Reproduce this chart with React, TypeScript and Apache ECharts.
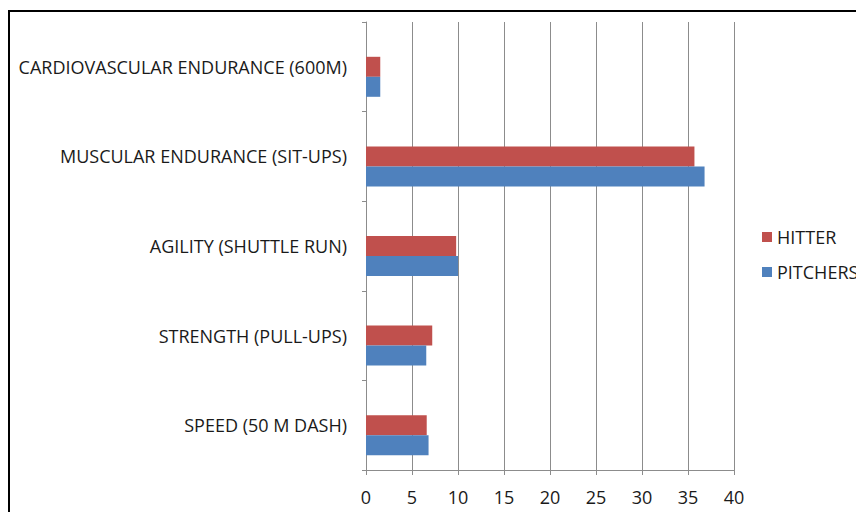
import React, { useEffect, useRef } from "react";
import * as echarts from "echarts";

const categories = [
  "SPEED (50 M DASH)",
  "STRENGTH (PULL-UPS)",
  "AGILITY (SHUTTLE RUN)",
  "MUSCULAR ENDURANCE (SIT-UPS)",
  "CARDIOVASCULAR ENDURANCE (600M)",
];
const hitter = [6.6, 7.2, 9.8, 35.7, 1.55];
const pitchers = [6.8, 6.55, 10.0, 36.8, 1.55];
const xTicks = { min: 0, max: 40, interval: 5 };

const FONT = "'Open Sans', sans-serif";
const GRID = "#8c8c8c";
const TEXT = "#1a1a1a";

export default function App() {
  const ref = useRef<HTMLDivElement>(null);
  useEffect(() => {
    const chart = echarts.init(ref.current!, null, { renderer: "svg" });
    chart.setOption({
      animation: false,
      backgroundColor: "#fff",
      textStyle: { fontFamily: FONT },
      grid: { left: 366, right: 122, top: 22, bottom: 42, containLabel: false },
      legend: {
        orient: "vertical",
        left: 757,
        top: 223,
        data: ["HITTER", "PITCHERS"],
        itemWidth: 10,
        itemHeight: 10,
        itemGap: 17,
        icon: "rect",
        textStyle: { fontSize: 18, color: TEXT, fontFamily: FONT },
      },
      graphic: [
        {
          type: "rect",
          shape: { x: 9, y: 11, width: 900, height: 600 },
          style: { fill: "none", stroke: "#000", lineWidth: 2 },
          silent: true,
        },
      ],
      xAxis: {
        type: "value",
        min: xTicks.min,
        max: xTicks.max,
        interval: xTicks.interval,
        axisLine: { show: true, lineStyle: { color: GRID } },
        axisTick: { show: true, length: 5, lineStyle: { color: GRID } },
        splitLine: { show: true, lineStyle: { color: GRID } },
        axisLabel: { fontSize: 18, color: TEXT, margin: 18, fontFamily: FONT },
      },
      yAxis: {
        type: "category",
        data: categories,
        axisLine: { show: true, lineStyle: { color: GRID } },
        axisTick: { show: true, length: 4, lineStyle: { color: GRID } },
        axisLabel: { fontSize: 18, color: TEXT, margin: 19, fontFamily: FONT },
      },
      series: [
        {
          name: "_blank",
          type: "bar",
          data: categories.map(() => null),
          barWidth: 20,
          barGap: "0%",
        },
        {
          name: "HITTER",
          type: "bar",
          data: hitter,
          barWidth: 20,
          barGap: "0%",
          itemStyle: { color: "#C0504D" },
        },
        {
          name: "PITCHERS",
          type: "bar",
          data: pitchers,
          barWidth: 20,
          barGap: "0%",
          itemStyle: { color: "#4F81BD" },
        },
      ],
    });
    return () => chart.dispose();
  }, []);
  return <div ref={ref} style={{ width: 856, height: 512, position: "absolute", left: 0, top: 0 }} />;
}
